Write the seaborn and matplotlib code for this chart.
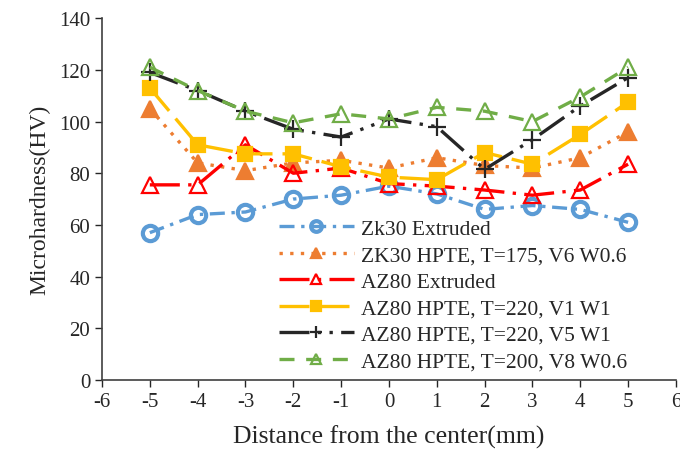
import matplotlib
matplotlib.use("Agg")
import matplotlib.pyplot as plt
import seaborn as sns
import pandas as pd

# Distance from the center (mm)
distance = [-5, -4, -3, -2, -1, 0, 1, 2, 3, 4, 5]

zk30_extruded = [57, 64, 65, 70, 71.5, 75, 72, 66, 67.5, 66, 61]
zk30_hpte_175 = [105, 84, 81, 84, 85, 82, 86, 83, 82, 86, 96]
az80_extruded = [75.5, 75.5, 91, 80, 82, 76, 75, 73.5, 71.5, 73.5, 83.5]
az80_hpte_220_v1 = [113, 91, 87.5, 87.5, 82.5, 78.5, 77.5, 88, 83.5, 95, 107.5]
az80_hpte_220_v5 = [119, 112, 104, 97, 94, 101, 98, 81.5, 93, 106, 117]
az80_hpte_200_v8 = [121, 112, 104, 99.5, 103, 101, 105.5, 104, 100, 109.5, 121]

series_names = [
    "Zk30 Extruded",
    "ZK30 HPTE, T=175, V6 W0.6",
    "AZ80 Extruded",
    "AZ80 HPTE, T=220, V1 W1",
    "AZ80 HPTE, T=220, V5 W1",
    "AZ80 HPTE, T=200, V8 W0.6",
]
series_values = [
    zk30_extruded,
    zk30_hpte_175,
    az80_extruded,
    az80_hpte_220_v1,
    az80_hpte_220_v5,
    az80_hpte_200_v8,
]

# style per series: color, marker, filled, linestyle, markersize
styles = [
    ("#5B9BD5", "o", False, (0, (4.5, 2, 1, 2)), 11),
    ("#ED7D31", "^", True, (0, (1, 2.2)), 11),
    ("#FF0000", "^", False, (0, (9, 2.5, 1, 2.5)), 11),
    ("#FFC000", "s", True, (0, (9, 3)), 9.5),
    ("#262626", "+", False, (0, (9, 2.5, 1, 2.5, 1, 2.5)), 13),
    ("#70AD47", "^", False, (0, (4.5, 3.5)), 11),
]


def main() -> None:
    sns.set_style("white")
    plt.rcParams["font.family"] = ["Liberation Serif", "DejaVu Serif"]
    plt.rcParams["axes.unicode_minus"] = False

    fig, ax = plt.subplots(figsize=(6.8, 4.56), dpi=100)
    fig.subplots_adjust(left=0.15, right=0.994, bottom=0.1645, top=0.958)

    for name, values, (color, marker, filled, ls, ms) in zip(
        series_names, series_values, styles
    ):
        df = pd.DataFrame({"x": distance, "y": values})
        sns.lineplot(
            data=df,
            x="x",
            y="y",
            ax=ax,
            label=name,
            color=color,
            linestyle=ls,
            linewidth=2.4,
            marker=marker,
            markersize=ms,
            markerfacecolor=color if filled else "none",
            markeredgecolor=color,
            markeredgewidth=3 if marker == "o" else 1.6,
        )

    ax.set_xlim(-6, 6)
    ax.set_ylim(0, 140)
    ax.set_xticks(range(-6, 7))
    ax.set_yticks(range(0, 141, 20))
    ax.set_xlabel("Distance from the center(mm)", fontsize=18.5, color="#262626",
                  labelpad=10)
    ax.set_ylabel("Microhardness(HV)", fontsize=17, color="#262626", labelpad=6)
    ax.tick_params(axis="both", direction="out", length=5, width=1,
                   labelsize=15, colors="#262626", bottom=True, left=True)

    for side in ["top", "right"]:
        ax.spines[side].set_visible(False)
    for side in ["left", "bottom"]:
        ax.spines[side].set_color("#404040")
        ax.spines[side].set_linewidth(1.2)

    ax.legend(
        loc="lower left",
        bbox_to_anchor=(0.293, 0.0),
        frameon=False,
        fontsize=15.5,
        handlelength=3.5,
        handletextpad=0.3,
        labelspacing=0.3,
        borderaxespad=0,
        markerscale=0.7,
    )

    fig.savefig("out.png", dpi=100)


if __name__ == "__main__":
    main()
